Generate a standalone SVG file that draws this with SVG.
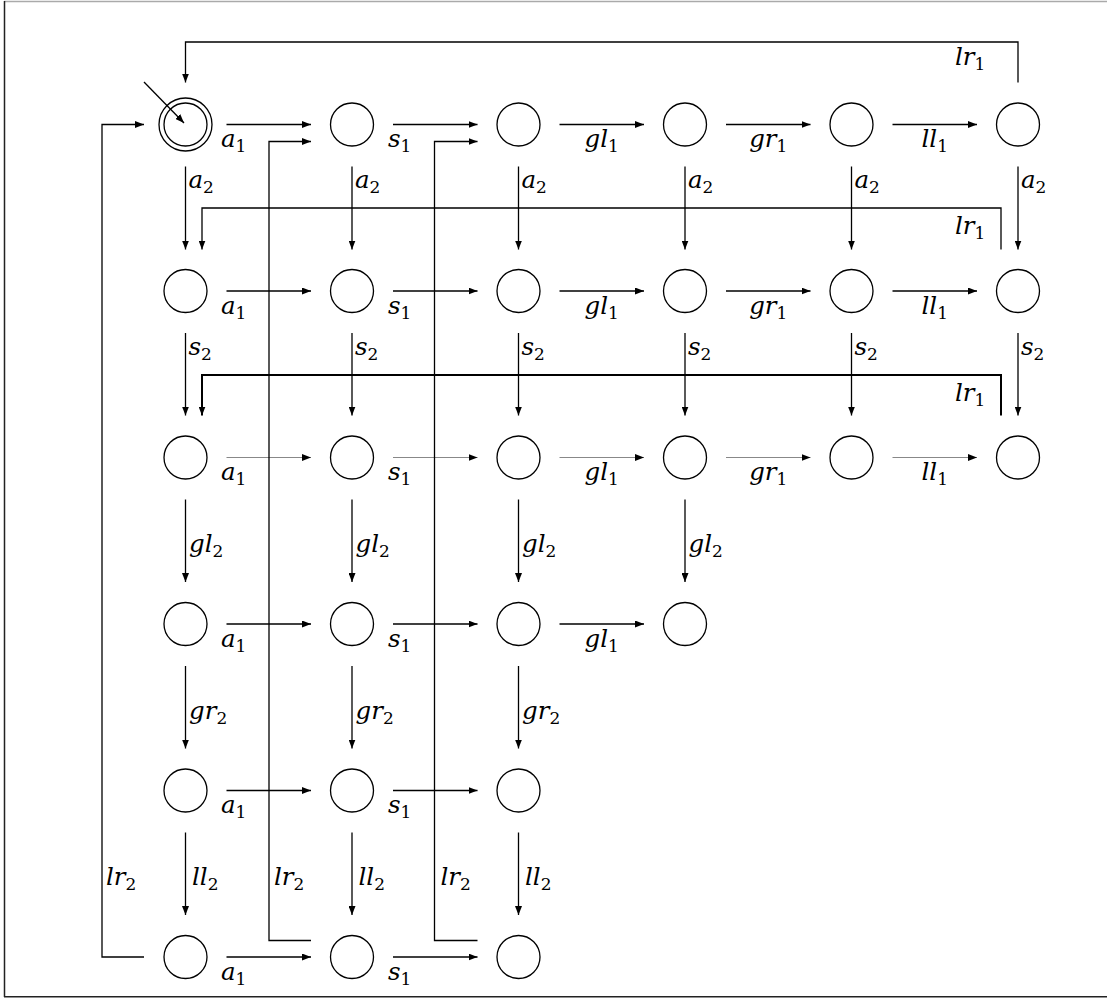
<svg xmlns="http://www.w3.org/2000/svg" width="1107" height="1001" viewBox="0 0 1107 1001">
<defs>
<style>
.st{fill:none;stroke:#000;stroke-width:1.3}
.e{fill:none;stroke:#000;stroke-width:1.3;marker-end:url(#ah)}
.thin{fill:none;stroke:#555;stroke-width:0.7;marker-end:url(#ah)}
.thick{fill:none;stroke:#000;stroke-width:2;marker-end:url(#ah)}
text{font-family:"DejaVu Serif","Liberation Serif",serif;font-style:italic;font-size:24.5px;fill:#000}
.s{font-style:normal;font-size:17px}
.m{text-anchor:middle}
</style>
<marker id="ah" markerWidth="9" markerHeight="7" refX="9" refY="3.5" orient="auto" markerUnits="userSpaceOnUse"><path d="M0,0 L9,3.5 L0,7 z" fill="#000"/></marker>
</defs>
<rect x="0" y="0" width="1107" height="1001" fill="#fff"/>
<g id="frame">
<line x1="4" y1="1.5" x2="1107" y2="1.5" stroke="#aaa" stroke-width="1.3"/>
<line x1="4.5" y1="1" x2="4.5" y2="997" stroke="#222" stroke-width="1.5"/>
<line x1="4" y1="996.8" x2="1107" y2="996.8" stroke="#222" stroke-width="1.6"/>
</g>
<g id="nodes">
<g id="n11"><circle class="st" cx="185.5" cy="124.5" r="21.5"/><circle class="st" cx="185.5" cy="124.5" r="26.5"/></g>
<g id="n12"><circle class="st" cx="352" cy="124.5" r="21.5"/></g>
<g id="n13"><circle class="st" cx="518.5" cy="124.5" r="21.5"/></g>
<g id="n14"><circle class="st" cx="685" cy="124.5" r="21.5"/></g>
<g id="n15"><circle class="st" cx="851.5" cy="124.5" r="21.5"/></g>
<g id="n16"><circle class="st" cx="1018" cy="124.5" r="21.5"/></g>
<g id="n21"><circle class="st" cx="185.5" cy="291" r="21.5"/></g>
<g id="n22"><circle class="st" cx="352" cy="291" r="21.5"/></g>
<g id="n23"><circle class="st" cx="518.5" cy="291" r="21.5"/></g>
<g id="n24"><circle class="st" cx="685" cy="291" r="21.5"/></g>
<g id="n25"><circle class="st" cx="851.5" cy="291" r="21.5"/></g>
<g id="n26"><circle class="st" cx="1018" cy="291" r="21.5"/></g>
<g id="n31"><circle class="st" cx="185.5" cy="457.5" r="21.5"/></g>
<g id="n32"><circle class="st" cx="352" cy="457.5" r="21.5"/></g>
<g id="n33"><circle class="st" cx="518.5" cy="457.5" r="21.5"/></g>
<g id="n34"><circle class="st" cx="685" cy="457.5" r="21.5"/></g>
<g id="n35"><circle class="st" cx="851.5" cy="457.5" r="21.5"/></g>
<g id="n36"><circle class="st" cx="1018" cy="457.5" r="21.5"/></g>
<g id="n41"><circle class="st" cx="185.5" cy="624" r="21.5"/></g>
<g id="n42"><circle class="st" cx="352" cy="624" r="21.5"/></g>
<g id="n43"><circle class="st" cx="518.5" cy="624" r="21.5"/></g>
<g id="n44"><circle class="st" cx="685" cy="624" r="21.5"/></g>
<g id="n51"><circle class="st" cx="185.5" cy="790.5" r="21.5"/></g>
<g id="n52"><circle class="st" cx="352" cy="790.5" r="21.5"/></g>
<g id="n53"><circle class="st" cx="518.5" cy="790.5" r="21.5"/></g>
<g id="n61"><circle class="st" cx="185.5" cy="957" r="21.5"/></g>
<g id="n62"><circle class="st" cx="352" cy="957" r="21.5"/></g>
<g id="n63"><circle class="st" cx="518.5" cy="957" r="21.5"/></g>
</g>
<g id="connectors">
<path class="e" d="M144,82 L184,123"/>
<path class="e" d="M226.5,124.5 H311"/>
<path class="e" d="M393,124.5 H477.5"/>
<path class="e" d="M559.5,124.5 H644"/>
<path class="e" d="M726,124.5 H810.5"/>
<path class="e" d="M892.5,124.5 H977"/>
<path class="e" d="M226.5,291 H311"/>
<path class="e" d="M393,291 H477.5"/>
<path class="e" d="M559.5,291 H644"/>
<path class="e" d="M726,291 H810.5"/>
<path class="e" d="M892.5,291 H977"/>
<path class="thin" d="M226.5,457.5 H311"/>
<path class="thin" d="M393,457.5 H477.5"/>
<path class="thin" d="M559.5,457.5 H644"/>
<path class="thin" d="M726,457.5 H810.5"/>
<path class="thin" d="M892.5,457.5 H977"/>
<path class="e" d="M226.5,624 H311"/>
<path class="e" d="M393,624 H477.5"/>
<path class="e" d="M559.5,624 H644"/>
<path class="e" d="M226.5,790.5 H311"/>
<path class="e" d="M393,790.5 H477.5"/>
<path class="e" d="M226.5,957 H311"/>
<path class="e" d="M393,957 H477.5"/>
<path class="e" d="M185.5,166.5 V249.5"/>
<path class="e" d="M352,166.5 V249.5"/>
<path class="e" d="M518.5,166.5 V249.5"/>
<path class="e" d="M685,166.5 V249.5"/>
<path class="e" d="M851.5,166.5 V249.5"/>
<path class="e" d="M1018,166.5 V249.5"/>
<path class="e" d="M185.5,333 V415.5"/>
<path class="e" d="M352,333 V415.5"/>
<path class="e" d="M518.5,333 V415.5"/>
<path class="e" d="M685,333 V415.5"/>
<path class="e" d="M851.5,333 V415.5"/>
<path class="e" d="M1018,333 V415.5"/>
<path class="e" d="M185.5,499.5 V582"/>
<path class="e" d="M352,499.5 V582"/>
<path class="e" d="M518.5,499.5 V582"/>
<path class="e" d="M685,499.5 V582"/>
<path class="e" d="M185.5,666 V748.5"/>
<path class="e" d="M352,666 V748.5"/>
<path class="e" d="M518.5,666 V748.5"/>
<path class="e" d="M185.5,832.5 V915"/>
<path class="e" d="M352,832.5 V915"/>
<path class="e" d="M518.5,832.5 V915"/>
<path class="e" d="M1018,82.5 V42 H185.5 V82.5"/>
<path class="e" d="M1001,249.5 V208 H202 V249.5"/>
<path class="thick" d="M1001,415.5 V375 H202 V415.5"/>
<path class="e" d="M144,957 H102 V124.5 H144"/>
<path class="e" d="M311,940.5 H269 V141.5 H311"/>
<path class="e" d="M477.5,940.5 H434.5 V141.5 H477.5"/>
</g>
<g id="labels">
<text x="221" y="147">a<tspan class="s" dy="5">1</tspan></text>
<text x="388" y="147">s<tspan class="s" dy="5">1</tspan></text>
<text class="m" x="601.75" y="147">gl<tspan class="s" dy="5">1</tspan></text>
<text class="m" x="768.25" y="147">gr<tspan class="s" dy="5">1</tspan></text>
<text class="m" x="934.75" y="147">ll<tspan class="s" dy="5">1</tspan></text>
<text x="221" y="313.5">a<tspan class="s" dy="5">1</tspan></text>
<text x="388" y="313.5">s<tspan class="s" dy="5">1</tspan></text>
<text class="m" x="601.75" y="313.5">gl<tspan class="s" dy="5">1</tspan></text>
<text class="m" x="768.25" y="313.5">gr<tspan class="s" dy="5">1</tspan></text>
<text class="m" x="934.75" y="313.5">ll<tspan class="s" dy="5">1</tspan></text>
<text x="221" y="480">a<tspan class="s" dy="5">1</tspan></text>
<text x="388" y="480">s<tspan class="s" dy="5">1</tspan></text>
<text class="m" x="601.75" y="480">gl<tspan class="s" dy="5">1</tspan></text>
<text class="m" x="768.25" y="480">gr<tspan class="s" dy="5">1</tspan></text>
<text class="m" x="934.75" y="480">ll<tspan class="s" dy="5">1</tspan></text>
<text x="221" y="646.5">a<tspan class="s" dy="5">1</tspan></text>
<text x="388" y="646.5">s<tspan class="s" dy="5">1</tspan></text>
<text class="m" x="601.75" y="646.5">gl<tspan class="s" dy="5">1</tspan></text>
<text x="221" y="813">a<tspan class="s" dy="5">1</tspan></text>
<text x="388" y="813">s<tspan class="s" dy="5">1</tspan></text>
<text x="221" y="979.5">a<tspan class="s" dy="5">1</tspan></text>
<text x="388" y="979.5">s<tspan class="s" dy="5">1</tspan></text>
<text x="188.5" y="188">a<tspan class="s" dy="5">2</tspan></text>
<text x="355" y="188">a<tspan class="s" dy="5">2</tspan></text>
<text x="521.5" y="188">a<tspan class="s" dy="5">2</tspan></text>
<text x="688" y="188">a<tspan class="s" dy="5">2</tspan></text>
<text x="854.5" y="188">a<tspan class="s" dy="5">2</tspan></text>
<text x="1021" y="188">a<tspan class="s" dy="5">2</tspan></text>
<text x="188.5" y="355">s<tspan class="s" dy="5">2</tspan></text>
<text x="355" y="355">s<tspan class="s" dy="5">2</tspan></text>
<text x="521.5" y="355">s<tspan class="s" dy="5">2</tspan></text>
<text x="688" y="355">s<tspan class="s" dy="5">2</tspan></text>
<text x="854.5" y="355">s<tspan class="s" dy="5">2</tspan></text>
<text x="1021" y="355">s<tspan class="s" dy="5">2</tspan></text>
<text x="189" y="552">gl<tspan class="s" dy="5">2</tspan></text>
<text x="355.5" y="552">gl<tspan class="s" dy="5">2</tspan></text>
<text x="522" y="552">gl<tspan class="s" dy="5">2</tspan></text>
<text x="688.5" y="552">gl<tspan class="s" dy="5">2</tspan></text>
<text x="189" y="718.5">gr<tspan class="s" dy="5">2</tspan></text>
<text x="355.5" y="718.5">gr<tspan class="s" dy="5">2</tspan></text>
<text x="522" y="718.5">gr<tspan class="s" dy="5">2</tspan></text>
<text x="192" y="885">ll<tspan class="s" dy="5">2</tspan></text>
<text x="358.5" y="885">ll<tspan class="s" dy="5">2</tspan></text>
<text x="525" y="885">ll<tspan class="s" dy="5">2</tspan></text>
<text x="106" y="885">lr<tspan class="s" dy="5">2</tspan></text>
<text x="274" y="885">lr<tspan class="s" dy="5">2</tspan></text>
<text x="440.5" y="885">lr<tspan class="s" dy="5">2</tspan></text>
<text x="955" y="65">lr<tspan class="s" dy="5">1</tspan></text>
<text x="955" y="234">lr<tspan class="s" dy="5">1</tspan></text>
<text x="955" y="401">lr<tspan class="s" dy="5">1</tspan></text>
</g>
</svg>
